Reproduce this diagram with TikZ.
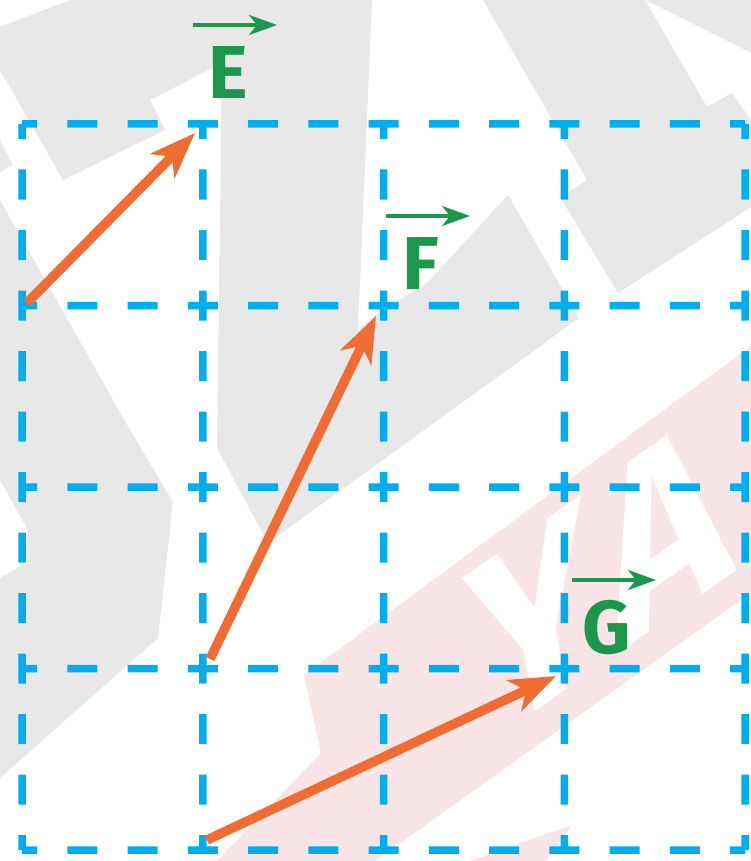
\documentclass[tikz,border=0pt]{standalone}
\usepackage{fontspec}
\setmainfont{Fira Sans}
\usetikzlibrary{arrows.meta,positioning}
\definecolor{gridblue}{RGB}{0,174,239}
\definecolor{vecorange}{RGB}{241,108,50}
\definecolor{labgreen}{RGB}{27,152,75}
\definecolor{markgrey}{RGB}{232,232,232}
\definecolor{markpink}{RGB}{249,229,229}
\def\Xstep{180.75}
\def\Ystep{181.5}

\begin{document}
\begin{tikzpicture}[x=1pt,y=-1pt,% one unit is one pixel of the reference, y grows downwards
		every node/.style={
			inner sep=0pt		% labels sit right on their letters
		},
		gridh/.style={draw=gridblue,line width=7.5pt,dash pattern=on 30pt off 30.25pt,dash phase=15pt},
		gridv/.style={draw=gridblue,line width=7.5pt,dash pattern=on 30pt off 30.5pt,dash phase=15pt},
		vecline/.style={draw=vecorange,line width=9.5pt,-{Stealth[length=46pt,width=34pt,inset=13pt]}},
		veclabel/.style={text=labgreen,font=\fontsize{75}{75}\selectfont\bfseries},
		labarrow/.style={draw=labgreen,line width=3.5pt,-{Stealth[length=28pt,width=20pt,inset=8pt]}}
	]
	\useasboundingbox (0,0) rectangle (751,861);
	\clip (0,0) rectangle (751,861);
	% watermark in the background
	\fill[markgrey] (0,27) -- (70,0) -- (372,0) -- (358,330) -- (375,315) -- (427,283) -- (508,195)
		-- (579,318) -- (268,543) -- (217,448) -- (222,63) -- (150,100) -- (165,130) -- (63,180) -- (0,70) -- cycle;
	\fill[markgrey] (0,140) -- (13,165) -- (0,172) -- cycle;
	\fill[markgrey] (483,0) -- (645,0) -- (707,107) -- (732,93) -- (751,120) -- (751,207) -- (618,293) -- (560,197) -- (587,180) -- cycle;
	\fill[markgrey] (645,0) -- (751,0) -- (751,53) -- cycle;
	\fill[markgrey] (0,200) -- (130,430) -- (173,502) -- (158,638) -- (0,778) -- (0,578) -- (27,563) -- (28,530) -- (0,480) -- cycle;
	\fill[markpink] (470,861) -- (572,825) -- (545,861) -- cycle;
	\begin{scope}
		\clip (304,675) -- (751,346) -- (751,593) -- (375,861) -- (217,861) -- (321,753) -- cycle;
		\fill[markpink] (0,0) rectangle (751,861);
		\node[cm={0.819,0.574,-0.174,0.985,(0,0)},anchor=base west,text=white,
			font=\fontsize{240}{240}\selectfont\bfseries] (mark) at (492,742) {Y\kern12pt A};
	\end{scope}
	% dashed grid, four by four squares
	\begin{scope}[blend group=multiply]
	\begin{scope}[blend mode=normal]
		\foreach \i in {0,...,4}{
			\draw[gridh] (22,124+\Ystep*\i) -- (745,124+\Ystep*\i);
			\draw[gridv] (22+\Xstep*\i,124) -- (22+\Xstep*\i,850);
		}
		% the three vectors
		\coordinate (Etail) at (27,303);
		\coordinate (Ehead) at (195,133);
		\coordinate (Ftail) at (210,659);
		\coordinate (Fhead) at (376,316);
		\coordinate (Gtail) at (207,840);
		\coordinate (Ghead) at (556,676);
		\draw[vecline] (Etail) -- (Ehead);
		\draw[vecline] (Ftail) -- (Fhead);
		\draw[vecline] (Gtail) -- (Ghead);
	\end{scope}
	\end{scope}
	% names of the vectors
	\node[veclabel] (labE) at (228,73) {E};
	\node[veclabel] (labF) at (421,264) {F};
	\node[veclabel] (labG) at (607,628) {G};
	\foreach \n in {labE,labF,labG}{
		\draw[labarrow] ([shift={(-35,-48)}]\n.center) -- ([shift={(49,-48)}]\n.center);
	}
\end{tikzpicture}
\end{document}
